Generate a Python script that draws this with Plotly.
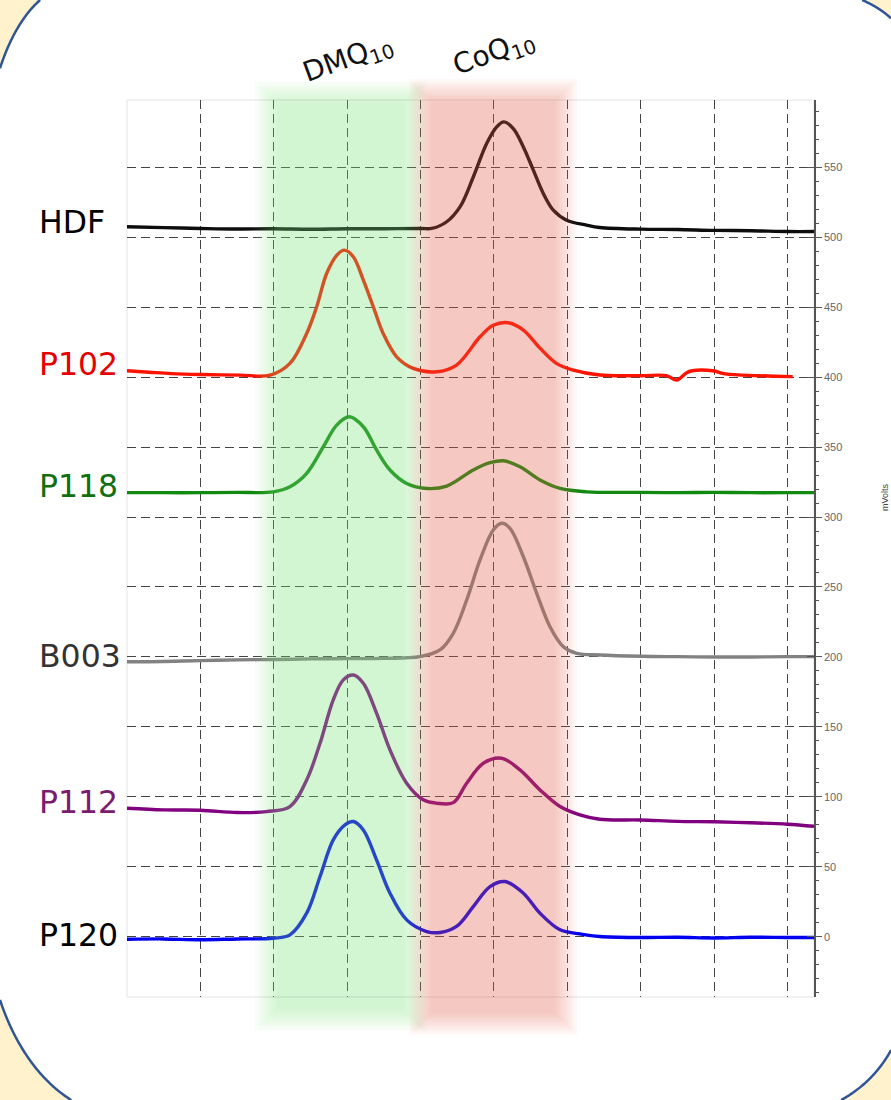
import math
import plotly.graph_objects as go

# ---------------- data ----------------
hdf_t = [0, 0.5, 1.0, 1.5, 2.0, 2.5, 3.0, 3.5, 4.0, 4.15, 4.356, 4.537, 4.718, 4.9, 5.037, 5.136,
         5.263, 5.4, 5.536, 5.672, 5.808, 5.99, 6.26, 6.44, 7.0, 7.5, 8.0, 8.5, 9.0, 9.36]
hdf_mv = [507.4, 506.8, 506.2, 505.8, 506.0, 505.6, 506.0, 506.0, 506.2, 506.2, 511, 521.6, 543, 566.9,
          578.8, 582.4, 577.6, 564.5, 547.9, 531.2, 519.3, 512.1, 508.6, 506.9, 505.7, 505.5, 504.8,
          504.6, 504.0, 504.0]

p102_t = [0, 0.3, 0.6, 1.0, 1.54, 1.95, 2.22, 2.448, 2.584, 2.72, 2.857, 2.96, 3.083, 3.22, 3.356, 3.49,
          3.674, 3.9, 4.22, 4.49, 4.81, 4.99, 5.195, 5.4, 5.63, 5.85, 6.08, 6.44, 7.0, 7.35, 7.49, 7.62,
          7.7, 7.98, 8.15, 8.6, 9.07]
p102_mv = [404.5, 403.5, 402.5, 401.8, 401.4, 401.4, 409.8, 431.2, 450.2, 474, 487, 490.7, 486, 469.3,
           450.2, 431.2, 414.5, 406.2, 403.8, 408.6, 428.8, 437, 438.8, 433.6, 420.5, 409.8, 405, 401.5,
           401.0, 401.0, 397.9, 403, 404.5, 404.5, 402.3, 401.0, 400.3]

p118_t = [0, 0.5, 1.0, 1.5, 1.994, 2.22, 2.448, 2.675, 2.857, 3.029, 3.22, 3.4, 3.583, 3.81, 4.083,
          4.356, 4.718, 4.946, 5.127, 5.354, 5.627, 5.9, 6.26, 7.0, 7.5, 8.0, 8.5, 9.0, 9.36]
p118_mv = [317.4, 317.4, 317.4, 317.6, 318, 321.6, 331.2, 350.2, 365.7, 371.6, 364.5, 347.9, 333.6, 324,
           320.4, 322.1, 333.6, 338.8, 340.2, 335.9, 326.4, 320.4, 318, 317.6, 317.4, 317.6, 317.4,
           317.4, 317.4]

b003_t = [0, 0.5, 1.0, 1.5, 2.0, 2.5, 3.0, 3.5, 3.99, 4.264, 4.445, 4.628, 4.81, 4.99, 5.105, 5.218,
          5.4, 5.582, 5.763, 5.944, 6.127, 6.444, 7.0, 7.5, 8.0, 8.5, 9.0, 9.36]
b003_mv = [196.6, 196.8, 197.4, 197.9, 198.2, 198.6, 198.8, 199.0, 200.2, 205, 216.9, 240.7, 269.3,
           290.7, 295.5, 291.9, 271.6, 245.5, 221.6, 207.4, 202.6, 201.4, 200.5, 200.2, 200.0, 200.0,
           200.2, 200.2]

p112_t = [0, 0.5, 1.0, 1.5, 1.9, 2.22, 2.448, 2.63, 2.81, 2.947, 3.083, 3.22, 3.4, 3.583, 3.81, 4.037,
          4.22, 4.445, 4.628, 4.854, 5.105, 5.354, 5.627, 5.9, 6.17, 6.44, 7.0, 7.5, 8.0, 8.5, 9.0, 9.36]
p112_mv = [91.9, 90.7, 90.5, 88.8, 89.5, 93.1, 112.1, 138.3, 169.3, 183.6, 187.1, 181.2, 159.8, 133.6,
           109.8, 97.9, 95.5, 95.9, 109.8, 124, 127.6, 119.3, 105, 93.1, 87.1, 84, 83.5, 82.5, 82.2,
           81.5, 80.5, 79]

p120_t = [0, 0.5, 1.0, 1.5, 1.994, 2.22, 2.448, 2.63, 2.81, 2.97, 3.083, 3.22, 3.4, 3.583, 3.81, 4.083,
          4.264, 4.49, 4.718, 4.946, 5.15, 5.4, 5.627, 5.9, 6.17, 6.44, 7.0, 7.5, 8.0, 8.5, 9.0, 9.36]
p120_mv = [-1.7, -1.5, -2.1, -1.5, -1, 1.4, 16.9, 43.1, 69.3, 80, 82.4, 76.4, 55, 31.2, 12.1, 3.8, 3.1,
           7.4, 21.6, 35.9, 39.5, 31.2, 16.9, 5, 2.1, 0.2, -0.5, -0.3, -0.8, -0.3, -0.5, -0.5]

sample_names = ["HDF", "P102", "P118", "B003", "P112", "P120"]
peak_labels = ["DMQ<sub>10</sub>", "CoQ<sub>10</sub>"]
axis_title = "mVolts"

# ---------------- layout geometry ----------------
W, H = 891, 1100
L, R, T, B = 127, 77, 100, 103
PW, PH = W - L - R, H - T - B


def px(x):
    return (x - L) / PW


def py(y):
    return (H - B - y) / PH


series = [
    (hdf_t, hdf_mv, "#0d0d0d", "#000000"),
    (p102_t, p102_mv, "#ff1200", "#e60000"),
    (p118_t, p118_mv, "#128a12", "#107010"),
    (b003_t, b003_mv, "#828282", "#333333"),
    (p112_t, p112_mv, "#800080", "#7b1a6e"),
    (p120_t, p120_mv, "#0000f0", "#000000"),
]
label_y = [221, 363, 485, 655, 801, 934]

fig = go.Figure()
for (t, mv, col, _), name in zip(series, sample_names):
    fig.add_trace(go.Scatter(x=t, y=mv, mode="lines", name=name,
                             line=dict(color=col, width=3.4, shape="spline", smoothing=1.0),
                             hoverinfo="skip", showlegend=False))
# helper trace so the inner tick axis is drawn
fig.add_trace(go.Scatter(x=[None], y=[None], yaxis="y2", showlegend=False, hoverinfo="skip"))

shapes = []


def P(x, y):
    return f"{px(x):.5f},{py(y):.5f}"


# ---- frame: cream corner patches + blue rounded border, all kept inside the page ----
def inside(p):
    return -1e-9 <= p[0] <= W + 1e-9 and -1e-9 <= p[1] <= H + 1e-9


def clip_arc(cx, cy, rx, ry, th0, th1, n=240):
    raw = [(cx + rx * math.cos(math.radians(th0 + (th1 - th0) * i / n)),
            cy + ry * math.sin(math.radians(th0 + (th1 - th0) * i / n))) for i in range(n + 1)]
    out = []
    for a, b in zip(raw[:-1], raw[1:]):
        ia, ib = inside(a), inside(b)
        if ia:
            out.append(a)
        if ia != ib:
            # find crossing with the page border by bisection
            lo, hi = (a, b) if ia else (b, a)
            for _ in range(40):
                mid = ((lo[0] + hi[0]) / 2, (lo[1] + hi[1]) / 2)
                if inside(mid):
                    lo = mid
                else:
                    hi = mid
            out.append((min(max(lo[0], 0), W), min(max(lo[1], 0), H)))
    if inside(raw[-1]):
        out.append(raw[-1])
    return out


corners = [
    ((76, 170, 91, 185, 180, 270), (0, 0)),
    ((783, 49, 123, 64, 270, 360), (W, 0)),
    ((782, 991, 124, 124, 0, 90), (W, H)),
    ((122, 904, 137, 211, 90, 180), (0, H)),
]
for (cx, cy, rx, ry, a0, a1), corner in corners:
    pts = clip_arc(cx, cy, rx, ry, a0, a1)
    patch = f"M {P(*corner)} " + " ".join(f"L {P(*p)}" for p in pts) + " Z"
    shapes.append(dict(type="path", path=patch, xref="paper", yref="paper", layer="below",
                       fillcolor="#fff2cc", line=dict(width=0)))
    stroke = f"M {P(*pts[0])} " + " ".join(f"L {P(*p)}" for p in pts[1:])
    shapes.append(dict(type="path", path=stroke, xref="paper", yref="paper", layer="below",
                       fillcolor="rgba(0,0,0,0)", line=dict(color="#2f5597", width=2.5)))

# faint plot border
shapes.append(dict(type="rect", xref="paper", yref="paper", x0=0, x1=1, y0=0, y1=1, layer="below",
                   line=dict(color="#e4e4e4", width=1)))


# ---- soft coloured bands (stacked translucent rectangles to fake a blur) ----
def band(x0, x1, y0, y1, rgb, blur=11, n=10, total=0.32):
    a = 1 - (1 - total) ** (1 / n)
    for i in range(n):
        d = blur * (1 - 2 * i / (n - 1))
        shapes.append(dict(type="rect", xref="paper", yref="paper", layer="above",
                           x0=px(x0 - d), x1=px(x1 + d), y0=py(y1 + d), y1=py(y0 - d),
                           fillcolor=f"rgba({rgb[0]},{rgb[1]},{rgb[2]},{a:.4f})",
                           line=dict(width=0)))


def base_color(target, A):
    return tuple(int(round(255 - (255 - c) / A)) for c in target)


band(266, 415, 92, 1020, base_color((212, 243, 212), 0.32), total=0.32)
band(420, 566, 90, 1024, base_color((248, 204, 198), 0.32), total=0.32)

annotations = []
for (t, mv, _, lcol), name, yy in zip(series, sample_names, label_y):
    annotations.append(dict(text=name, x=px(37), y=py(yy + 1), xref="paper", yref="paper",
                            xanchor="left", yanchor="middle", showarrow=False,
                            font=dict(family="DejaVu Sans", size=31.5, color=lcol)))
annotations.append(dict(text=peak_labels[0], x=px(348), y=py(60), xref="paper", yref="paper",
                        xanchor="center", yanchor="middle", textangle=-20, showarrow=False,
                        font=dict(family="DejaVu Sans", size=28, color="#111")))
annotations.append(dict(text=peak_labels[1], x=px(494), y=py(53), xref="paper", yref="paper",
                        xanchor="center", yanchor="middle", textangle=-20, showarrow=False,
                        font=dict(family="DejaVu Sans", size=28, color="#111")))
annotations.append(dict(text=axis_title, x=px(885), y=py(497), xref="paper", yref="paper",
                        xanchor="center", yanchor="middle", textangle=-90, showarrow=False,
                        font=dict(family="Liberation Sans", size=9, color="#444")))

yr = [-43, 598]
fig.update_layout(
    width=W, height=H, autosize=False,
    margin=dict(l=L, r=R, t=T, b=B, pad=0),
    paper_bgcolor="white", plot_bgcolor="rgba(0,0,0,0)",
    shapes=shapes, annotations=annotations, showlegend=False,
    xaxis=dict(range=[0, 9.36], tickmode="array", tickvals=[1, 2, 3, 4, 5, 6, 7, 8, 9],
               showticklabels=False, ticks="", showgrid=True, gridcolor="#444444", gridwidth=1,
               griddash="9px,5px", zeroline=False, showline=False, fixedrange=True),
    yaxis=dict(range=yr, side="right", tickmode="linear", tick0=0, dtick=50,
               showgrid=True, gridcolor="#444444", gridwidth=1, griddash="9px,5px",
               zeroline=False, showline=True, linecolor="#555", linewidth=1.5,
               ticks="outside", ticklen=6, tickcolor="#555", tickwidth=1.2,
               tickfont=dict(family="Liberation Sans", size=11, color="#666"),
               minor=dict(dtick=10, ticks="outside", ticklen=3, tickcolor="#555", showgrid=False),
               fixedrange=True),
    yaxis2=dict(range=yr, overlaying="y", side="right", tickmode="linear", tick0=0, dtick=50,
                ticks="inside", ticklen=7, tickcolor="#555", tickwidth=1.2, showticklabels=False,
                showgrid=False, zeroline=False, showline=False, fixedrange=True),
)

fig.write_html("out.html")
